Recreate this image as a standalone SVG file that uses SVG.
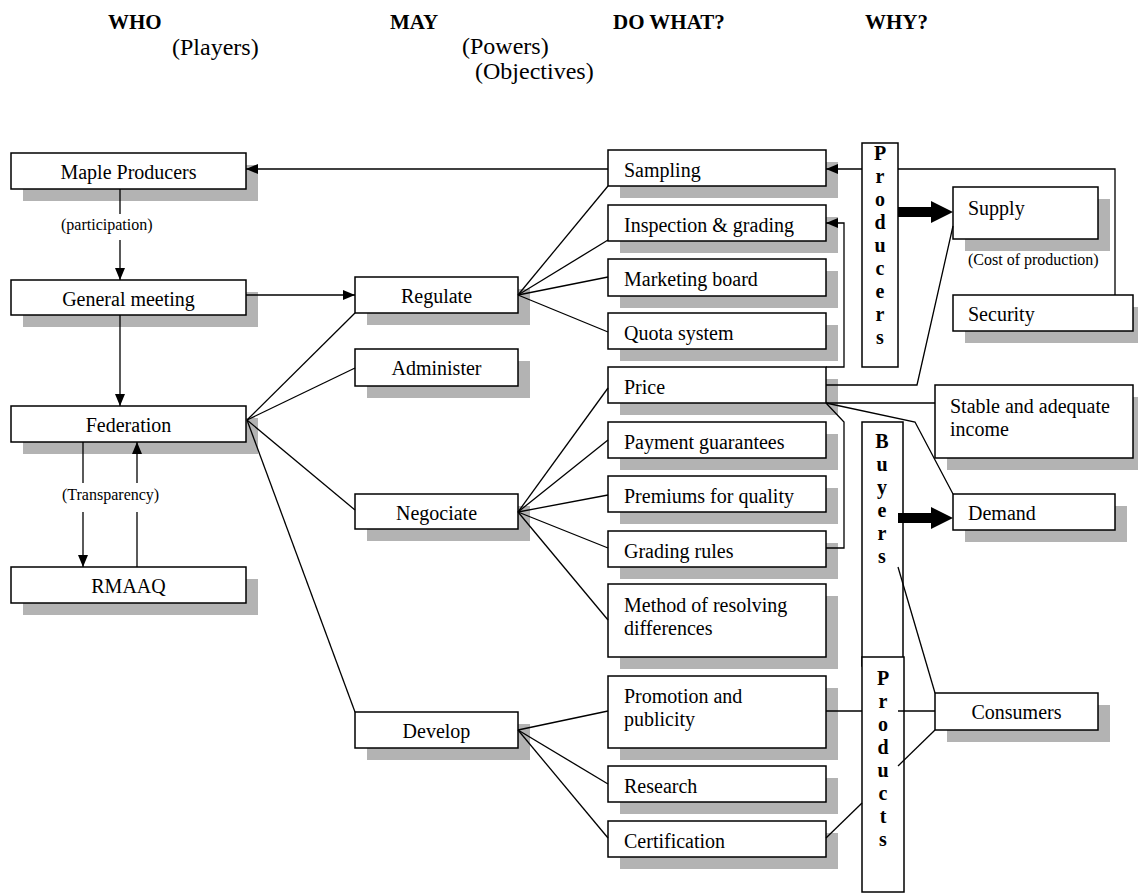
<svg xmlns="http://www.w3.org/2000/svg" width="1138" height="894" viewBox="0 0 1138 894">
<style>
.bg{fill:#fff}
.sh{fill:#b3b3b3}
.bx{fill:#fff;stroke:#000;stroke-width:1.5}
.t{font-family:"Liberation Serif","Times New Roman",serif;font-size:20px;fill:#000}
.m{text-anchor:middle}
.s{font-family:"Liberation Serif","Times New Roman",serif;font-size:16px;fill:#000}
.h{font-family:"Liberation Serif","Times New Roman",serif;font-size:21px;font-weight:bold;fill:#000}
.hs{font-family:"Liberation Serif","Times New Roman",serif;font-size:24px;fill:#000}
.v{font-family:"Liberation Serif","Times New Roman",serif;font-size:20px;font-weight:bold;text-anchor:middle;fill:#000}
.ln{fill:none;stroke:#000;stroke-width:1.3}
.ar{fill:none;stroke:#000;stroke-width:1.3;marker-end:url(#ah)}
</style>
<defs>
<marker id="ah" markerUnits="userSpaceOnUse" markerWidth="12" markerHeight="10" viewBox="0 0 12 10" refX="12" refY="5" orient="auto">
<path d="M0,0 L12,5 L0,10 Z" fill="#000"/>
</marker>
</defs>
<rect class="bg" x="0" y="0" width="1138" height="894"/>

<g id="headers">
<text class="h" x="108" y="29">WHO</text>
<text class="hs" x="172" y="55">(Players)</text>
<text class="h" x="390" y="29">MAY</text>
<text class="hs" x="462" y="54">(Powers)</text>
<text class="hs" x="475" y="79">(Objectives)</text>
<text class="h" x="613" y="29">DO WHAT?</text>
<text class="h" x="865" y="29">WHY?</text>
</g>

<g id="maple"><rect class="sh" x="23" y="165" width="235" height="36"/><rect class="bx" x="11" y="153" width="235" height="36"/><text class="t m" x="128.5" y="179">Maple Producers</text></g>
<g id="general"><rect class="sh" x="23" y="292" width="235" height="35"/><rect class="bx" x="11" y="280" width="235" height="35"/><text class="t m" x="128.5" y="306">General meeting</text></g>
<g id="federation"><rect class="sh" x="23" y="418" width="235" height="36"/><rect class="bx" x="11" y="406" width="235" height="36"/><text class="t m" x="128.5" y="432">Federation</text></g>
<g id="rmaaq"><rect class="sh" x="23" y="579" width="235" height="36"/><rect class="bx" x="11" y="567" width="235" height="36"/><text class="t m" x="128.5" y="593">RMAAQ</text></g>

<g id="regulate"><rect class="sh" x="367" y="289" width="163" height="36"/><rect class="bx" x="355" y="277" width="163" height="36"/><text class="t m" x="436.5" y="303">Regulate</text></g>
<g id="administer"><rect class="sh" x="367" y="361" width="163" height="37"/><rect class="bx" x="355" y="349" width="163" height="37"/><text class="t m" x="436.5" y="375">Administer</text></g>
<g id="negociate"><rect class="sh" x="367" y="506" width="163" height="35"/><rect class="bx" x="355" y="494" width="163" height="35"/><text class="t m" x="436.5" y="520">Negociate</text></g>
<g id="develop"><rect class="sh" x="367" y="724" width="163" height="36"/><rect class="bx" x="355" y="712" width="163" height="36"/><text class="t m" x="436.5" y="738">Develop</text></g>

<g id="sampling"><rect class="sh" x="620" y="162" width="218" height="36"/><rect class="bx" x="608" y="150" width="218" height="36"/><text class="t" x="624" y="177">Sampling</text></g>
<g id="inspection"><rect class="sh" x="620" y="217" width="218" height="36"/><rect class="bx" x="608" y="205" width="218" height="36"/><text class="t" x="624" y="232">Inspection &amp; grading</text></g>
<g id="marketing"><rect class="sh" x="620" y="271" width="218" height="37"/><rect class="bx" x="608" y="259" width="218" height="37"/><text class="t" x="624" y="286">Marketing board</text></g>
<g id="quota"><rect class="sh" x="620" y="325" width="218" height="36"/><rect class="bx" x="608" y="313" width="218" height="36"/><text class="t" x="624" y="340">Quota system</text></g>
<g id="price"><rect class="sh" x="620" y="379" width="218" height="36"/><rect class="bx" x="608" y="367" width="218" height="36"/><text class="t" x="624" y="394">Price</text></g>
<g id="payment"><rect class="sh" x="620" y="434" width="218" height="36"/><rect class="bx" x="608" y="422" width="218" height="36"/><text class="t" x="624" y="449">Payment guarantees</text></g>
<g id="premiums"><rect class="sh" x="620" y="488" width="218" height="36"/><rect class="bx" x="608" y="476" width="218" height="36"/><text class="t" x="624" y="503">Premiums for quality</text></g>
<g id="grading"><rect class="sh" x="620" y="543" width="218" height="36"/><rect class="bx" x="608" y="531" width="218" height="36"/><text class="t" x="624" y="558">Grading rules</text></g>
<g id="method"><rect class="sh" x="620" y="596" width="218" height="73"/><rect class="bx" x="608" y="584" width="218" height="73"/><text class="t" x="624" y="612">Method of resolving</text><text class="t" x="624" y="635">differences</text></g>
<g id="promotion"><rect class="sh" x="620" y="688" width="218" height="72"/><rect class="bx" x="608" y="676" width="218" height="72"/><text class="t" x="624" y="703">Promotion and</text><text class="t" x="624" y="726">publicity</text></g>
<g id="research"><rect class="sh" x="620" y="778" width="218" height="36"/><rect class="bx" x="608" y="766" width="218" height="36"/><text class="t" x="624" y="793">Research</text></g>
<g id="certification"><rect class="sh" x="620" y="833" width="218" height="36"/><rect class="bx" x="608" y="821" width="218" height="36"/><text class="t" x="624" y="848">Certification</text></g>

<g id="producers"><rect class="bx" x="862" y="143" width="36" height="224"/>
<text class="v" x="880" y="160">P</text><text class="v" x="880" y="183">r</text><text class="v" x="880" y="206">o</text><text class="v" x="880" y="229">d</text><text class="v" x="880" y="252">u</text><text class="v" x="880" y="275">c</text><text class="v" x="880" y="298">e</text><text class="v" x="880" y="321">r</text><text class="v" x="880" y="344">s</text></g>
<g id="buyers"><rect class="bx" x="862" y="422" width="41" height="244"/>
<text class="v" x="882" y="448">B</text><text class="v" x="882" y="471">u</text><text class="v" x="882" y="494">y</text><text class="v" x="882" y="517">e</text><text class="v" x="882" y="540">r</text><text class="v" x="882" y="563">s</text></g>
<g id="products"><rect class="bx" x="862" y="657" width="42" height="235"/>
<text class="v" x="883" y="685">P</text><text class="v" x="883" y="708">r</text><text class="v" x="883" y="731">o</text><text class="v" x="883" y="754">d</text><text class="v" x="883" y="777">u</text><text class="v" x="883" y="800">c</text><text class="v" x="883" y="823">t</text><text class="v" x="883" y="846">s</text></g>

<g id="supply"><rect class="sh" x="965" y="199" width="145" height="52"/><rect class="bx" x="953" y="187" width="145" height="52"/><text class="t" x="968" y="215">Supply</text></g>
<text id="cost" class="s" x="968" y="265">(Cost of production)</text>
<g id="security"><rect class="sh" x="965" y="307" width="180" height="36"/><rect class="bx" x="953" y="295" width="180" height="36"/><text class="t" x="968" y="321">Security</text></g>
<g id="stable"><rect class="sh" x="947" y="397" width="198" height="73"/><rect class="bx" x="935" y="385" width="198" height="73"/><text class="t" x="950" y="413">Stable and adequate</text><text class="t" x="950" y="436">income</text></g>
<g id="demand"><rect class="sh" x="965" y="506" width="162" height="36"/><rect class="bx" x="953" y="494" width="162" height="36"/><text class="t" x="968" y="520">Demand</text></g>
<g id="consumers"><rect class="sh" x="947" y="705" width="163" height="37"/><rect class="bx" x="935" y="693" width="163" height="37"/><text class="t m" x="1016.5" y="719">Consumers</text></g>

<g id="connectors">
<line class="ln" x1="120" y1="189" x2="120" y2="214"/>
<text class="s" x="61" y="230">(participation)</text>
<line class="ar" x1="120" y1="240" x2="120" y2="280"/>
<line class="ar" x1="120" y1="315" x2="120" y2="406"/>
<line class="ln" x1="83" y1="442" x2="83" y2="483"/>
<line class="ar" x1="83" y1="512" x2="83" y2="567"/>
<line class="ln" x1="137" y1="567" x2="137" y2="512"/>
<line class="ar" x1="137" y1="483" x2="137" y2="442"/>
<text class="s" x="62" y="500">(Transparency)</text>
<line class="ar" x1="246" y1="295" x2="355" y2="295"/>
<line class="ar" x1="608" y1="169" x2="246" y2="169"/>
<polyline class="ln" points="247,420 355,313"/>
<polyline class="ln" points="247,420 355,368"/>
<polyline class="ln" points="247,420 355,510"/>
<polyline class="ln" points="247,420 355,712"/>
<polyline class="ln" points="518,295 608,186"/>
<polyline class="ln" points="518,295 608,240"/>
<polyline class="ln" points="518,295 608,277"/>
<polyline class="ln" points="518,295 608,332"/>
<polyline class="ln" points="518,512 608,388"/>
<polyline class="ln" points="518,512 608,440"/>
<polyline class="ln" points="518,512 608,495"/>
<polyline class="ln" points="518,512 608,548"/>
<polyline class="ln" points="518,512 608,620"/>
<polyline class="ln" points="518,730 608,711"/>
<polyline class="ln" points="518,730 608,784"/>
<polyline class="ln" points="518,730 608,838"/>
<polyline class="ln" points="1115,295 1115,169 898,169"/>
<line class="ar" x1="862" y1="169" x2="826" y2="169"/>
<polyline class="ar" points="826,367 844,367 844,223 826,223"/>
<polyline class="ln" points="826,548 844,548 844,422 826,403"/>
<polyline class="ln" points="826,385 917,385 953,226"/>
<polyline class="ln" points="826,403 935,403"/>
<polyline class="ln" points="826,403 915,422 953,494"/>
<polygon points="898,207 931,207 931,201 953,212 931,223 931,217 898,217" fill="#000"/>
<polygon points="898,513 931,513 931,507 953,518 931,529 931,523 898,523" fill="#000"/>
<line class="ln" x1="898" y1="567" x2="935" y2="693"/>
<line class="ln" x1="826" y1="711" x2="862" y2="711"/>
<line class="ln" x1="898" y1="711" x2="935" y2="711"/>
<line class="ln" x1="826" y1="838" x2="862" y2="803"/>
<line class="ln" x1="898" y1="766" x2="935" y2="730"/>
</g>
</svg>
